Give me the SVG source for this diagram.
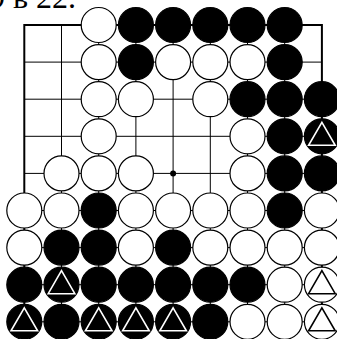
<svg xmlns="http://www.w3.org/2000/svg" width="337" height="339" viewBox="0 0 337 339">
<style>
.bg{fill:#fff}
.g{stroke:#000;stroke-width:1;fill:none}
.e{stroke:#000;stroke-width:2;fill:none}
.b{fill:#000;stroke:#000;stroke-width:1.2}
.w{fill:#fff;stroke:#000;stroke-width:1.2}
.tw{fill:none;stroke:#fff;stroke-width:1.6}
.tb{fill:none;stroke:#000;stroke-width:1.6}
.t{font-family:"Liberation Serif","Times New Roman",serif;font-size:32px;fill:#000}
</style>
<defs>
<polygon id="tri" points="0,-14 13.3,9 -13.3,9"/>
</defs>
<rect class="bg" x="0" y="0" width="337" height="339"/>
<text class="t" x="-11" y="7.5">9 в 22.</text>
<g id="connectors">
<line class="e" x1="24.3" y1="25" x2="321.9" y2="25"/>
<line class="g" x1="24.3" y1="62.1" x2="321.9" y2="62.1"/>
<line class="g" x1="24.3" y1="99.2" x2="321.9" y2="99.2"/>
<line class="g" x1="24.3" y1="136.3" x2="321.9" y2="136.3"/>
<line class="g" x1="24.3" y1="173.4" x2="321.9" y2="173.4"/>
<line class="g" x1="24.3" y1="210.5" x2="321.9" y2="210.5"/>
<line class="g" x1="24.3" y1="247.6" x2="321.9" y2="247.6"/>
<line class="g" x1="24.3" y1="284.7" x2="321.9" y2="284.7"/>
<line class="g" x1="24.3" y1="321.8" x2="321.9" y2="321.8"/>
<line class="e" x1="24.3" y1="24" x2="24.3" y2="339"/>
<line class="g" x1="61.5" y1="25" x2="61.5" y2="339"/>
<line class="g" x1="98.7" y1="25" x2="98.7" y2="339"/>
<line class="g" x1="135.9" y1="25" x2="135.9" y2="339"/>
<line class="g" x1="173.1" y1="25" x2="173.1" y2="339"/>
<line class="g" x1="210.3" y1="25" x2="210.3" y2="339"/>
<line class="g" x1="247.5" y1="25" x2="247.5" y2="339"/>
<line class="g" x1="284.7" y1="25" x2="284.7" y2="339"/>
<line class="e" x1="321.9" y1="24" x2="321.9" y2="339"/>
<circle cx="173.1" cy="173.4" r="3" fill="#000"/>
</g>
<g id="r1">
<circle id="r1c3" class="w" cx="98.7" cy="25" r="17.5"/>
<circle id="r1c4" class="b" cx="135.9" cy="25" r="17.5"/>
<circle id="r1c5" class="b" cx="173.1" cy="25" r="17.5"/>
<circle id="r1c6" class="b" cx="210.3" cy="25" r="17.5"/>
<circle id="r1c7" class="b" cx="247.5" cy="25" r="17.5"/>
<circle id="r1c8" class="b" cx="284.7" cy="25" r="17.5"/>
</g>
<g id="r2">
<circle id="r2c3" class="w" cx="98.7" cy="62.1" r="17.5"/>
<circle id="r2c4" class="b" cx="135.9" cy="62.1" r="17.5"/>
<circle id="r2c5" class="w" cx="173.1" cy="62.1" r="17.5"/>
<circle id="r2c6" class="w" cx="210.3" cy="62.1" r="17.5"/>
<circle id="r2c7" class="w" cx="247.5" cy="62.1" r="17.5"/>
<circle id="r2c8" class="b" cx="284.7" cy="62.1" r="17.5"/>
</g>
<g id="r3">
<circle id="r3c3" class="w" cx="98.7" cy="99.2" r="17.5"/>
<circle id="r3c4" class="w" cx="135.9" cy="99.2" r="17.5"/>
<circle id="r3c6" class="w" cx="210.3" cy="99.2" r="17.5"/>
<circle id="r3c7" class="b" cx="247.5" cy="99.2" r="17.5"/>
<circle id="r3c8" class="b" cx="284.7" cy="99.2" r="17.5"/>
<circle id="r3c9" class="b" cx="321.9" cy="99.2" r="17.5"/>
</g>
<g id="r4">
<circle id="r4c3" class="w" cx="98.7" cy="136.3" r="17.5"/>
<circle id="r4c7" class="w" cx="247.5" cy="136.3" r="17.5"/>
<circle id="r4c8" class="b" cx="284.7" cy="136.3" r="17.5"/>
<g id="r4c9"><circle class="b" cx="321.9" cy="136.3" r="17.5"/><use href="#tri" class="tw" x="321.9" y="136.3"/></g>
</g>
<g id="r5">
<circle id="r5c2" class="w" cx="61.5" cy="173.4" r="17.5"/>
<circle id="r5c3" class="w" cx="98.7" cy="173.4" r="17.5"/>
<circle id="r5c4" class="w" cx="135.9" cy="173.4" r="17.5"/>
<circle id="r5c7" class="w" cx="247.5" cy="173.4" r="17.5"/>
<circle id="r5c8" class="b" cx="284.7" cy="173.4" r="17.5"/>
<circle id="r5c9" class="b" cx="321.9" cy="173.4" r="17.5"/>
</g>
<g id="r6">
<circle id="r6c1" class="w" cx="24.3" cy="210.5" r="17.5"/>
<circle id="r6c2" class="w" cx="61.5" cy="210.5" r="17.5"/>
<circle id="r6c3" class="b" cx="98.7" cy="210.5" r="17.5"/>
<circle id="r6c4" class="w" cx="135.9" cy="210.5" r="17.5"/>
<circle id="r6c5" class="w" cx="173.1" cy="210.5" r="17.5"/>
<circle id="r6c6" class="w" cx="210.3" cy="210.5" r="17.5"/>
<circle id="r6c7" class="w" cx="247.5" cy="210.5" r="17.5"/>
<circle id="r6c8" class="b" cx="284.7" cy="210.5" r="17.5"/>
<circle id="r6c9" class="w" cx="321.9" cy="210.5" r="17.5"/>
</g>
<g id="r7">
<circle id="r7c1" class="w" cx="24.3" cy="247.6" r="17.5"/>
<circle id="r7c2" class="b" cx="61.5" cy="247.6" r="17.5"/>
<circle id="r7c3" class="b" cx="98.7" cy="247.6" r="17.5"/>
<circle id="r7c4" class="w" cx="135.9" cy="247.6" r="17.5"/>
<circle id="r7c5" class="b" cx="173.1" cy="247.6" r="17.5"/>
<circle id="r7c6" class="w" cx="210.3" cy="247.6" r="17.5"/>
<circle id="r7c7" class="w" cx="247.5" cy="247.6" r="17.5"/>
<circle id="r7c8" class="w" cx="284.7" cy="247.6" r="17.5"/>
<circle id="r7c9" class="w" cx="321.9" cy="247.6" r="17.5"/>
</g>
<g id="r8">
<circle id="r8c1" class="b" cx="24.3" cy="284.7" r="17.5"/>
<g id="r8c2"><circle class="b" cx="61.5" cy="284.7" r="17.5"/><use href="#tri" class="tw" x="61.5" y="284.7"/></g>
<circle id="r8c3" class="b" cx="98.7" cy="284.7" r="17.5"/>
<circle id="r8c4" class="b" cx="135.9" cy="284.7" r="17.5"/>
<circle id="r8c5" class="b" cx="173.1" cy="284.7" r="17.5"/>
<circle id="r8c6" class="b" cx="210.3" cy="284.7" r="17.5"/>
<circle id="r8c7" class="b" cx="247.5" cy="284.7" r="17.5"/>
<circle id="r8c8" class="w" cx="284.7" cy="284.7" r="17.5"/>
<g id="r8c9"><circle class="w" cx="321.9" cy="284.7" r="17.5"/><use href="#tri" class="tb" x="321.9" y="284.7"/></g>
</g>
<g id="r9">
<g id="r9c1"><circle class="b" cx="24.3" cy="321.8" r="17.5"/><use href="#tri" class="tw" x="24.3" y="321.8"/></g>
<circle id="r9c2" class="b" cx="61.5" cy="321.8" r="17.5"/>
<g id="r9c3"><circle class="b" cx="98.7" cy="321.8" r="17.5"/><use href="#tri" class="tw" x="98.7" y="321.8"/></g>
<g id="r9c4"><circle class="b" cx="135.9" cy="321.8" r="17.5"/><use href="#tri" class="tw" x="135.9" y="321.8"/></g>
<g id="r9c5"><circle class="b" cx="173.1" cy="321.8" r="17.5"/><use href="#tri" class="tw" x="173.1" y="321.8"/></g>
<circle id="r9c6" class="b" cx="210.3" cy="321.8" r="17.5"/>
<circle id="r9c7" class="w" cx="247.5" cy="321.8" r="17.5"/>
<circle id="r9c8" class="w" cx="284.7" cy="321.8" r="17.5"/>
<g id="r9c9"><circle class="w" cx="321.9" cy="321.8" r="17.5"/><use href="#tri" class="tb" x="321.9" y="321.8"/></g>
</g>
</svg>
